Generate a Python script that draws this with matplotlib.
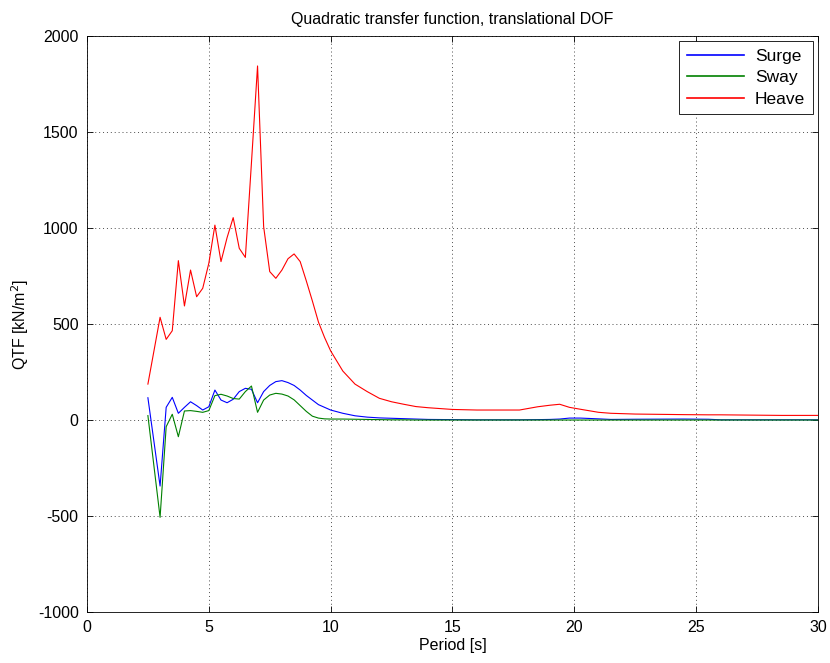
import matplotlib
matplotlib.use('Agg')
import matplotlib.pyplot as plt

period = [2.5, 3.0, 3.25, 3.5, 3.75, 4.0, 4.25, 4.5, 4.75, 5.0,
          5.25, 5.5, 5.75, 6.0, 6.25, 6.5, 6.75, 7.0, 7.25, 7.5,
          7.75, 8.0, 8.25, 8.5, 8.75, 9.0, 9.25, 9.5, 9.75, 10.0,
          10.5, 11.0, 11.5, 12.0, 12.5, 13.0, 13.5, 14.0, 15.0, 16.0,
          17.0, 17.75, 18.5, 19.0, 19.4, 19.8, 20.25, 21.0, 21.5, 22.5,
          24.5, 25.5, 26.0, 28.5, 30.0]

surge = [116, -344, 66, 118, 35, 66, 95, 75, 52, 69,
         156, 104, 90, 108, 148, 165, 160, 90, 148, 180,
         200, 205, 195, 180, 156, 128, 104, 80, 66, 52,
         35, 22, 15, 11, 9, 7, 5, 3, 2, 1,
         1, 1, 2, 3, 5, 10, 10, 6, 3, 4,
         5, 4, 1, 1, 1]

sway = [23, -507, -35, 30, -87, 47, 49, 45, 40, 49,
        127, 134, 125, 112, 109, 148, 177, 40, 104, 130,
        139, 135, 125, 105, 75, 45, 20, 10, 6, 5,
        5, 4, 3, 2, 1, 1, 0, 0, 0, 0,
        0, 0, 0, 0, 0, 0, 0, 0, 0, 0,
        0, 0, 0, 0, 0]

heave = [187, 535, 420, 465, 830, 594, 781, 642, 686, 816,
         1015, 825, 950, 1054, 894, 847, 1340, 1844, 1007, 773,
         738, 781, 840, 865, 825, 725, 620, 510, 430, 360,
         255, 187, 148, 113, 95, 82, 70, 64, 55, 52,
         52, 52, 69, 77, 82, 66, 56, 40, 35, 31,
         28, 27, 27, 24, 24]


def main():
    plt.rcParams['font.family'] = ['Liberation Sans', 'DejaVu Sans']
    plt.rcParams['axes.unicode_minus'] = False
    fs = 11.5

    fig = plt.figure(figsize=(8.3, 6.63), dpi=100)
    ax = fig.add_axes([0.1048, 0.0769, 0.8807, 0.8688])

    ax.plot(period, surge, color='#0000ff', lw=0.8, label='Surge')
    ax.plot(period, sway, color='#008000', lw=0.8, label='Sway')
    ax.plot(period, heave, color='#ff0000', lw=0.8, label='Heave')

    ax.set_xlim(0, 30)
    ax.set_ylim(-1000, 2000)
    ax.set_xticks(range(0, 31, 5))
    ax.set_yticks(range(-1000, 2001, 500))
    ax.grid(True, linestyle=(0, (1, 3)), color='0.3', lw=0.7)
    ax.tick_params(direction='in', top=True, right=True, length=4,
                   width=0.6, labelsize=fs)
    ax.tick_params(axis='x', pad=6)
    ax.tick_params(axis='y', pad=6)
    for s in ax.spines.values():
        s.set_linewidth(0.6)

    ax.set_title('Quadratic transfer function, translational DOF',
                 fontsize=fs, pad=9)
    ax.set_xlabel('Period [s]', fontsize=fs, labelpad=2)
    ax.set_ylabel('QTF [kN/m$^2$]', fontsize=fs, labelpad=5)

    leg = ax.legend(loc='upper right', fancybox=False, framealpha=1,
                    edgecolor='black', fontsize=12.5, handlelength=3.3,
                    borderaxespad=0.3, labelspacing=0.35,
                    borderpad=0.45, handletextpad=0.6)
    leg.get_frame().set_linewidth(0.6)
    for line in leg.get_lines():
        line.set_linewidth(1.2)

    fig.savefig('out.png', dpi=100)


if __name__ == '__main__':
    main()
